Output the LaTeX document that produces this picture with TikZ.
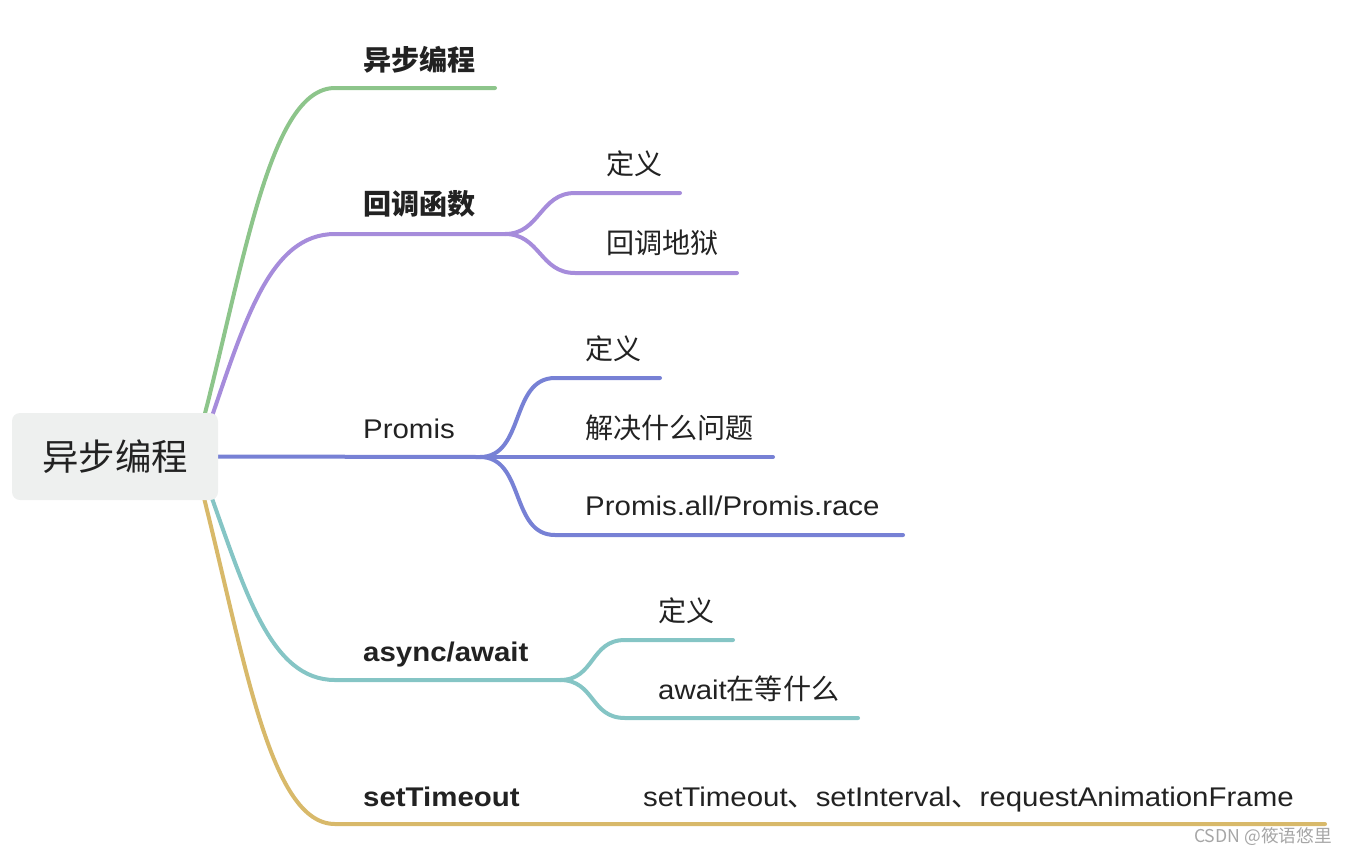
\documentclass[tikz,border=0pt]{standalone}
\usepackage{fontspec}
\setmainfont{Liberation Sans}[FakeStretch=1.09]
\newfontfamily\cjk{Noto Sans CJK SC}[Scale=1.04]
\usetikzlibrary{backgrounds}
\definecolor{ink}{HTML}{222222}
\definecolor{rootbg}{HTML}{EEF0EF}
\definecolor{cgreen}{HTML}{8DC58B}
\definecolor{cpurple}{HTML}{A68CDB}
\definecolor{cblue}{HTML}{7781D5}
\definecolor{cteal}{HTML}{85C5C5}
\definecolor{cgold}{HTML}{D8B96A}

\begin{document}
\begin{tikzpicture}[x=1pt,y=-1pt]
\tikzstyle{every node}+=[inner sep=0pt, text=ink, font=\fontsize{27}{32}\selectfont]
\tikzstyle{topic}=[anchor=base west, font=\fontsize{27}{32}\selectfont\bfseries]
\tikzstyle{leaf}=[anchor=base west]
\tikzstyle{branch}=[line width=4pt, line cap=round]
\useasboundingbox (0,0) rectangle (1348,854);

\node (root) [fill=rootbg, rounded corners=8pt, minimum width=206pt, minimum height=87pt,
  font=\cjk\fontsize{35}{40}\selectfont] at (115,456.5) {异步编程};

\node (t1) [topic] at (363,70) {\cjk 异步编程};
\node (t2) [topic] at (363,214) {\cjk 回调函数};
\node (t3) [topic, font=\fontsize{27}{32}\selectfont] at (363,438) {Promis};
\node (t4) [topic] at (363,661) {async/await};
\node (t5) [topic] at (363,806) {setTimeout};

\node (l21) [leaf] at (606,174) {\cjk 定义};
\node (l22) [leaf] at (606,253) {\cjk 回调地狱};
\node (l31) [leaf] at (585,359) {\cjk 定义};
\node (l32) [leaf] at (585,438) {\cjk 解决什么问题};
\node (l33) [leaf] at (585,515) {Promis.all/Promis.race};
\node (l41) [leaf] at (658,621) {\cjk 定义};
\node (l42) [leaf] at (658,699) {await{\cjk 在等什么}};
\node (l51) [leaf] at (643,806) {setTimeout{\cjk 、}setInterval{\cjk 、}requestAnimationFrame};

\node (mark) [anchor=base east, text=black!35, font=\cjk\fontsize{17}{20}\selectfont] at (1332,842) {CSDN @筱语悠里};

% branch points
\coordinate (r1) at (202,425);
\coordinate (r2) at (209,425);
\coordinate (r4) at (209,490);
\coordinate (r5) at (202,490);
\coordinate (k1) at (335,88);   \coordinate (e1) at (495,88);
\coordinate (k2) at (335,234);  \coordinate (f2) at (505,234);
\coordinate (f3) at (480,457);
\coordinate (k4) at (335,680);  \coordinate (f4) at (560,680);
\coordinate (k5) at (335,824);  \coordinate (e5) at (1325,824);

\coordinate (k21) at (575,193); \coordinate (e21) at (680,193);
\coordinate (k22) at (575,273); \coordinate (e22) at (737,273);
\coordinate (k31) at (555,378); \coordinate (e31) at (660,378);
\coordinate (e32) at (773,457);
\coordinate (k33) at (555,535); \coordinate (e33) at (903,535);
\coordinate (k41) at (625,640); \coordinate (e41) at (733,640);
\coordinate (k42) at (625,718); \coordinate (e42) at (858,718);

\begin{pgfonlayer}{background}
\draw[branch, cgreen] (r1) .. controls (245,260) and (270,88) .. (k1) -- (e1);
\draw[branch, cpurple] (r2) .. controls (245,320) and (270,234) .. (k2) -- (f2);
\draw[branch, cblue] (root.east) -- (f3);
\draw[branch, cteal] (r4) .. controls (245,590) and (270,680) .. (k4) -- (f4);
\draw[branch, cgold] (r5) .. controls (245,660) and (270,824) .. (k5) -- (e5);

\draw[branch, cpurple] (f2) .. controls (540,234) and (540,193) .. (k21) -- (e21);
\draw[branch, cpurple] (f2) .. controls (540,234) and (540,273) .. (k22) -- (e22);
\draw[branch, cblue] (f3) .. controls (525,457) and (510,378) .. (k31) -- (e31);
\draw[branch, cblue] (f3) -- (e32);
\draw[branch, cblue] (f3) .. controls (525,457) and (510,535) .. (k33) -- (e33);
\draw[branch, cteal] (f4) .. controls (595,680) and (590,640) .. (k41) -- (e41);
\draw[branch, cteal] (f4) .. controls (595,680) and (590,718) .. (k42) -- (e42);
\end{pgfonlayer}
\end{tikzpicture}
\end{document}
